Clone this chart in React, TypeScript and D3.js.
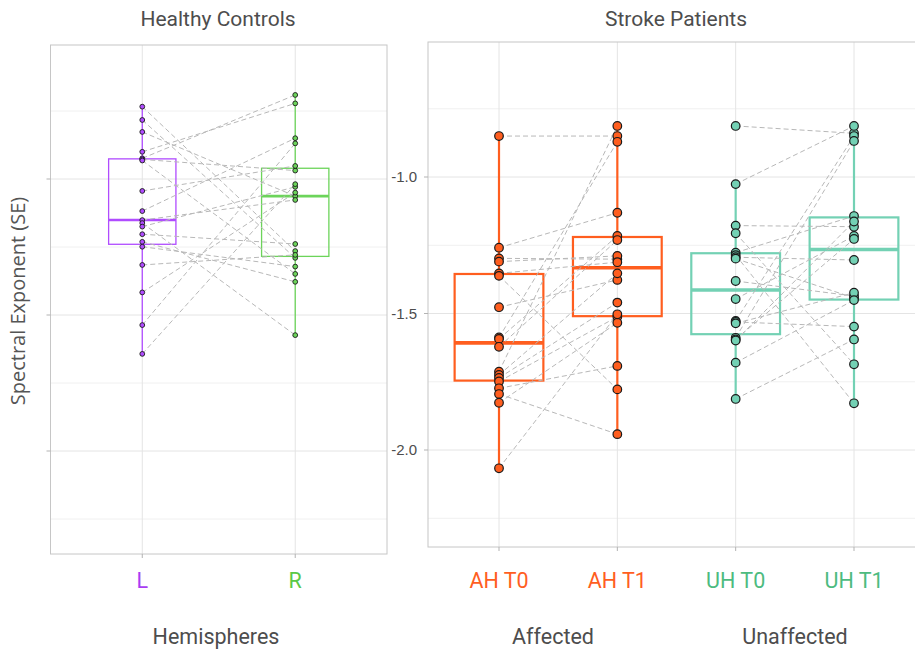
import React from 'react'
import * as d3 from 'd3'

// healthy controls, one entry per subject (same index = same subject)
const hemiCats = ['L', 'R']
const hemiL = [-0.734, -0.783, -0.827, -0.9, -0.924, -0.928, -0.932, -1.044, -1.118, -1.151, -1.162, -1.175, -1.203, -1.231, -1.249, -1.316, -1.417, -1.537, -1.643]
const hemiR = [-1.265, -1.29, -1.063, -0.722, -0.691, -0.969, -1.349, -0.952, -0.85, -1.077, -1.574, -1.029, -1.239, -1.378, -1.322, -1.279, -1.05, -0.869, -1.019]

// stroke patients, one entry per patient
const strokeCats = ['AH T0', 'AH T1', 'UH T0', 'UH T1']
const ahT0 = [-0.85, -1.259, -1.298, -1.31, -1.353, -1.362, -1.477, -1.588, -1.593, -1.622, -1.713, -1.725, -1.736, -1.749, -1.774, -1.795, -1.827, -2.067]
const ahT1 = [-0.85, -1.131, -1.301, -1.289, -1.312, -1.778, -1.377, -0.871, -1.216, -1.231, -0.813, -1.353, -1.46, -1.512, -1.692, -1.942, -1.534, -1.503]
const uhT0 = [-0.813, -1.026, -1.178, -1.206, -1.277, -1.286, -1.294, -1.299, -1.381, -1.447, -1.527, -1.531, -1.536, -1.589, -1.595, -1.599, -1.68, -1.813]
const uhT1 = [-0.84, -0.813, -1.182, -1.686, -1.143, -1.829, -1.304, -1.443, -1.436, -1.216, -0.85, -1.548, -1.424, -0.868, -1.227, -1.163, -1.451, -1.595]

const yMajor = [-1.0, -1.5, -2.0]
const yMinor = [-0.75, -1.25, -1.75, -2.25]

const hemiColors = ['#B04CFF', '#6CD45A']
const hemiText = ['#A83DF2', '#5AC846']
const strokeColors = ['#FF5E1F', '#FF5E1F', '#73D1B4', '#73D1B4']
const strokeText = ['#FF5E1F', '#FF5E1F', '#4DBB7F', '#4DBB7F']

const textGrey = '#4d4d4d'
const titleFont = 'Roboto, sans-serif'

function boxStats(values: number[]) {
  const s = [...values].sort(d3.ascending)
  const q1 = d3.quantile(s, 0.25)!
  const med = d3.quantile(s, 0.5)!
  const q3 = d3.quantile(s, 0.75)!
  const iqr = q3 - q1
  const lo = d3.min(s.filter(v => v >= q1 - 1.5 * iqr))!
  const hi = d3.max(s.filter(v => v <= q3 + 1.5 * iqr))!
  return { q1, med, q3, lo, hi }
}

interface PanelProps {
  left: number
  right: number
  top: number
  bottom: number
  y: d3.ScaleLinear<number, number>
  cats: string[]
  groups: number[][]
  pairs: [number, number][]
  colors: string[]
  textColors: string[]
  boxFrac: number
  r: number
  lw: number
  medW: number
  showYLabels: boolean
}

function Panel(p: PanelProps) {
  const x = d3.scalePoint<string>().domain(p.cats).range([p.left, p.right]).padding(0.6)
  const bw = x.step() * p.boxFrac
  const clipId = 'clip' + Math.round(p.left)

  return (
    <g>
      <defs>
        <clipPath id={clipId}>
          <rect x={p.left} y={p.top} width={p.right - p.left} height={p.bottom - p.top} />
        </clipPath>
      </defs>
      <g clipPath={`url(#${clipId})`}>
        {yMinor.map(v => (
          <line key={'mi' + v} x1={p.left} x2={p.right} y1={p.y(v)} y2={p.y(v)} stroke="#f0f0f0" strokeWidth={1} />
        ))}
        {yMajor.map(v => (
          <line key={'ma' + v} x1={p.left} x2={p.right} y1={p.y(v)} y2={p.y(v)} stroke="#e4e4e4" strokeWidth={1} />
        ))}
        {p.cats.map(c => (
          <line key={'vx' + c} x1={x(c)} x2={x(c)} y1={p.top} y2={p.bottom} stroke="#e4e4e4" strokeWidth={1} />
        ))}

        {p.groups.map((vals, gi) => {
          const st = boxStats(vals)
          const cx = x(p.cats[gi])!
          const col = p.colors[gi]
          return (
            <g key={'box' + gi} stroke={col} fill="none">
              <line x1={cx} x2={cx} y1={p.y(st.hi)} y2={p.y(st.q3)} strokeWidth={p.lw} />
              <line x1={cx} x2={cx} y1={p.y(st.q1)} y2={p.y(st.lo)} strokeWidth={p.lw} />
              <rect x={cx - bw / 2} y={p.y(st.q3)} width={bw} height={p.y(st.q1) - p.y(st.q3)} strokeWidth={p.lw} />
              <line x1={cx - bw / 2} x2={cx + bw / 2} y1={p.y(st.med)} y2={p.y(st.med)} strokeWidth={p.medW} />
            </g>
          )
        })}

        {p.pairs.map(([a, b]) =>
          p.groups[a].map((va, i) => (
            <line
              key={`pl${a}-${i}`}
              x1={x(p.cats[a])}
              y1={p.y(va)}
              x2={x(p.cats[b])}
              y2={p.y(p.groups[b][i])}
              stroke="#b8b8b8"
              strokeWidth={1}
              strokeDasharray="5,3"
            />
          )),
        )}

        {p.groups.map((vals, gi) =>
          vals.map((v, i) => (
            <circle
              key={`pt${gi}-${i}`}
              cx={x(p.cats[gi])}
              cy={p.y(v)}
              r={p.r}
              fill={p.colors[gi]}
              stroke="#1a1a1a"
              strokeWidth={p.r > 3 ? 1.2 : 0.9}
            />
          )),
        )}
      </g>

      <rect x={p.left} y={p.top} width={p.right - p.left} height={p.bottom - p.top} fill="none" stroke="#c6c6c6" strokeWidth={1} />

      {yMajor.map(v => (
        <g key={'yt' + v}>
          <line x1={p.left - 4} x2={p.left} y1={p.y(v)} y2={p.y(v)} stroke="#b3b3b3" />
          {p.showYLabels && (
            <text x={p.left - 11} y={p.y(v)} dy="0.35em" textAnchor="end" fontSize={15} fill={textGrey} fontFamily="'Liberation Sans', Arial, sans-serif">
              {d3.format('.1f')(v).replace('−', '-')}
            </text>
          )}
        </g>
      ))}

      {p.cats.map((c, i) => (
        <g key={'xt' + c}>
          <line x1={x(c)} x2={x(c)} y1={p.bottom} y2={p.bottom + 4} stroke="#b3b3b3" />
          <text x={x(c)} y={588} textAnchor="middle" fontSize={21.5} fill={p.textColors[i]} fontFamily={titleFont}>
            {c}
          </text>
        </g>
      ))}
    </g>
  )
}

export default function App() {
  const yLeft = d3.scaleLinear().domain([-1.0, -1.5]).range([179, 315])
  const yRight = d3.scaleLinear().domain([-1.0, -1.5]).range([177, 313.5])

  return (
    <svg width={915} height={650} style={{ position: 'absolute', left: 0, top: 0, background: '#fff' }}>
      <text x={218} y={26} textAnchor="middle" fontSize={21} fill={textGrey} fontFamily={titleFont}>
        Healthy Controls
      </text>
      <text x={676} y={26} textAnchor="middle" fontSize={21} fill={textGrey} fontFamily={titleFont}>
        Stroke Patients
      </text>

      <text
        transform="translate(25,301) rotate(-90)"
        textAnchor="middle"
        fontSize={20}
        fill="#555"
        fontFamily="'Open Sans', sans-serif"
      >
        Spectral Exponent (SE)
      </text>

      <Panel
        left={50.5}
        right={387}
        top={45}
        bottom={554}
        y={yLeft}
        cats={hemiCats}
        groups={[hemiL, hemiR]}
        pairs={[[0, 1]]}
        colors={hemiColors}
        textColors={hemiText}
        boxFrac={0.44}
        r={2.4}
        lw={1.3}
        medW={2.6}
        showYLabels={false}
      />
      <Panel
        left={428}
        right={925}
        top={42}
        bottom={547}
        y={yRight}
        cats={strokeCats}
        groups={[ahT0, ahT1, uhT0, uhT1]}
        pairs={[[0, 1], [2, 3]]}
        colors={strokeColors}
        textColors={strokeText}
        boxFrac={0.75}
        r={4.3}
        lw={2.2}
        medW={3.6}
        showYLabels={true}
      />

      <text x={216} y={644} textAnchor="middle" fontSize={21.5} fill={textGrey} fontFamily={titleFont}>
        Hemispheres
      </text>
      <text x={553} y={644} textAnchor="middle" fontSize={21.5} fill={textGrey} fontFamily={titleFont}>
        Affected
      </text>
      <text x={795} y={644} textAnchor="middle" fontSize={21.5} fill={textGrey} fontFamily={titleFont}>
        Unaffected
      </text>
    </svg>
  )
}
